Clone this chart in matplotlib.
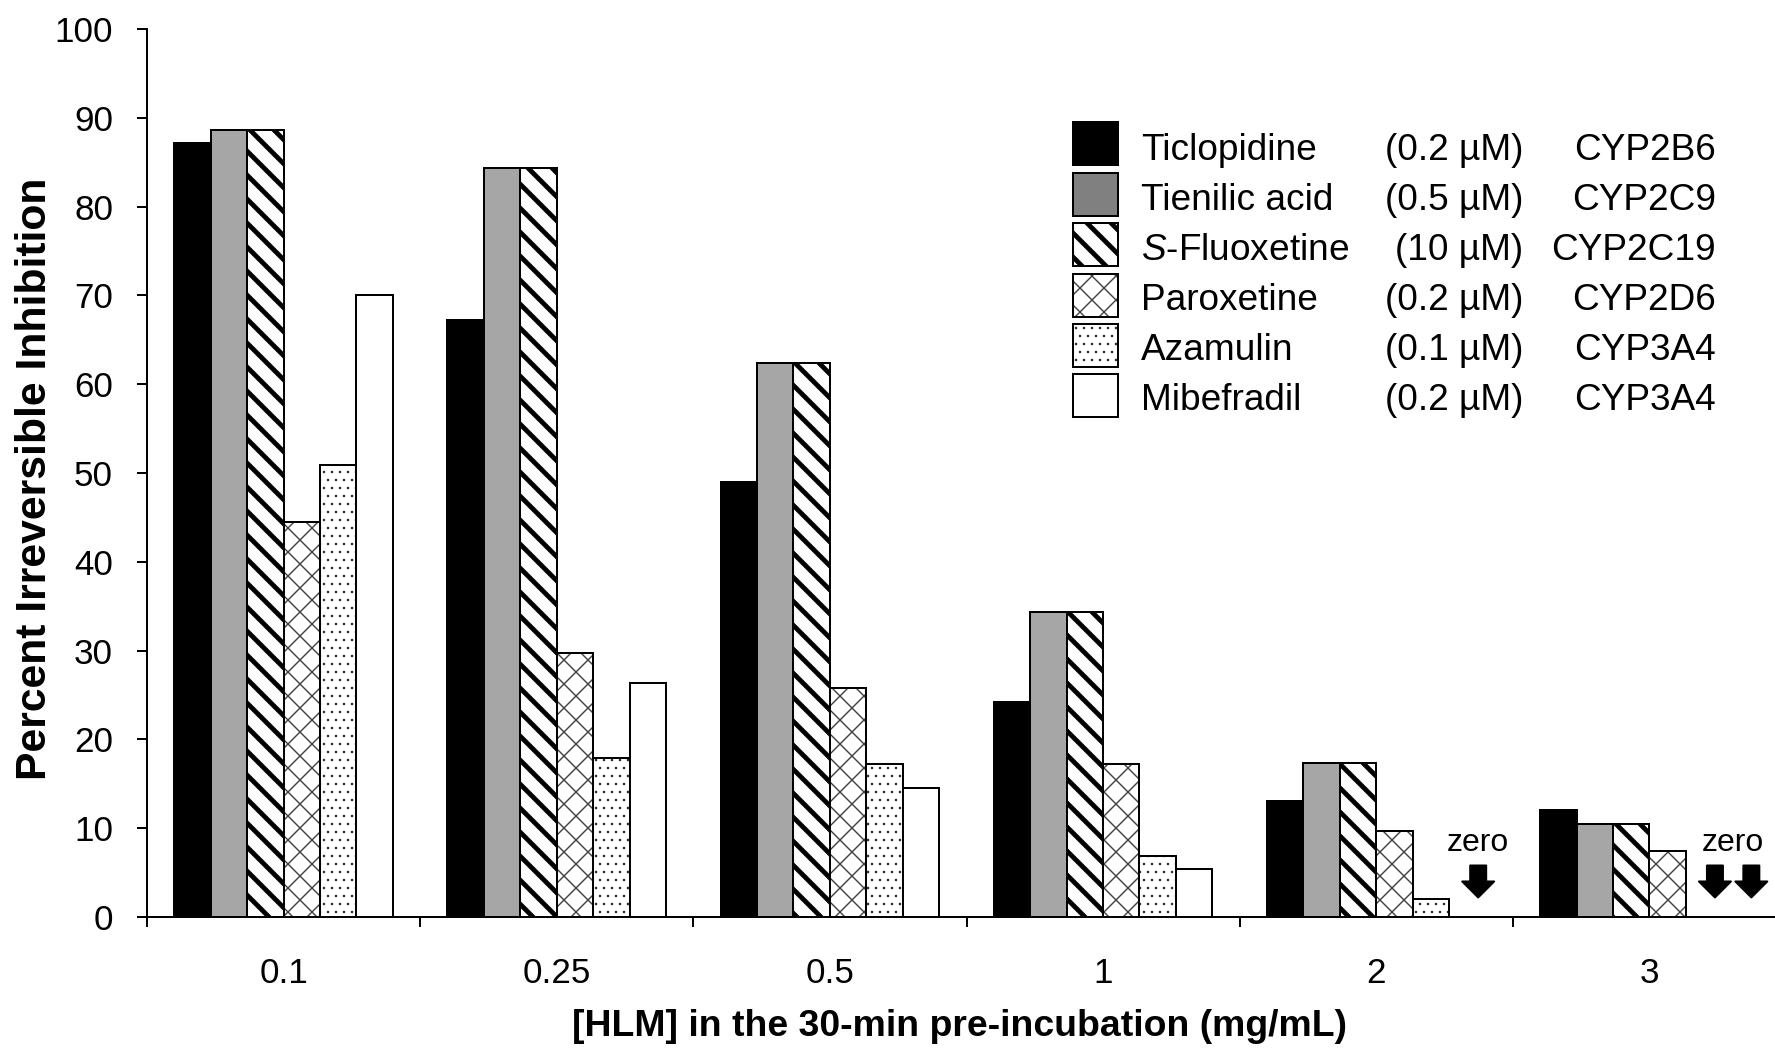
"""Percent irreversible inhibition vs HLM concentration in the 30-min pre-incubation."""

import matplotlib

matplotlib.use("Agg")
import matplotlib.pyplot as plt
import numpy as np
from matplotlib.patches import Rectangle
from matplotlib.ticker import NullFormatter

DPI = 144
plt.rcParams["font.family"] = ["Liberation Sans", "DejaVu Sans"]
plt.rcParams["mathtext.fontset"] = "custom"
plt.rcParams["mathtext.rm"] = "Liberation Sans"
plt.rcParams["mathtext.it"] = "Liberation Sans:italic"

concentrations = ["0.1", "0.25", "0.5", "1", "2", "3"]
legend_names = ["Ticlopidine", "Tienilic acid", r"$\mathit{S}$-Fluoxetine",
                "Paroxetine", "Azamulin", "Mibefradil"]
doses = ["(0.2 µM)", "(0.5 µM)", "(10 µM)", "(0.2 µM)", "(0.1 µM)", "(0.2 µM)"]
enzymes = ["CYP2B6", "CYP2C9", "CYP2C19", "CYP2D6", "CYP3A4", "CYP3A4"]

ticlopidine = [87.2, 67.2, 49.0, 24.2, 13.1, 12.1]
tienilic_acid = [88.6, 84.4, 62.4, 34.4, 17.3, 10.5]
s_fluoxetine = [88.6, 84.4, 62.4, 34.4, 17.3, 10.5]
paroxetine = [44.5, 29.7, 25.8, 17.2, 9.7, 7.4]
azamulin = [50.9, 17.9, 17.2, 6.9, 2.0, 0.0]
mibefradil = [70.0, 26.4, 14.5, 5.4, 0.0, 0.0]

series = [ticlopidine, tienilic_acid, s_fluoxetine, paroxetine, azamulin, mibefradil]

# face, legend face, hatch, hatch colour, hatch linewidth
STYLES = [
    ("black", "black", None, "black", 1.0),
    ("#a6a6a6", "#808080", None, "black", 1.0),
    ("white", "white", "\\\\", "black", 2.4),
    ("white", "white", "xx", "#404040", 0.7),
    ("white", "white", "...", "#202020", 0.45),
    ("white", "white", None, "black", 1.0),
]


def styled(artist, lw):
    if hasattr(artist, "set_hatch_linewidth"):
        artist.set_hatch_linewidth(lw)


fig = plt.figure(figsize=(1775 / DPI, 1050 / DPI), dpi=DPI)
ax = fig.add_axes([147 / 1775, 133 / 1050, 1639 / 1775, 888 / 1050])

width = 0.1333
groups = np.arange(len(concentrations))
for k, values in enumerate(series):
    face, _, hatch, hcolor, hlw = STYLES[k]
    xs = groups + 0.1 + (k + 0.5) * width
    with plt.rc_context({"hatch.linewidth": hlw}):
        bars = ax.bar(xs, values, width=width, color=face, edgecolor=hcolor,
                      linewidth=0, hatch=hatch, zorder=2)
    for b in bars:
        styled(b, hlw)
    ax.bar(xs, values, width=width, fill=False, edgecolor="black",
           linewidth=1.0, zorder=3)

# "zero" markers for bars with no measurable inhibition
for i in groups:
    arrow_x = [i + 0.1 + (k + 0.5) * width + 0.04
               for k, values in enumerate(series) if values[i] == 0]
    for x in arrow_x:
        ax.annotate("", xy=(x, 2.2), xytext=(x, 5.8),
                    arrowprops=dict(arrowstyle="simple,head_width=0.8,head_length=0.4,tail_width=0.4",
                                    fc="black", ec="black", shrinkA=0, shrinkB=0,
                                    mutation_scale=20))
    if arrow_x:
        ax.text(np.mean(arrow_x), 8.3, "zero", ha="center", va="center", fontsize=16)

ax.set_xlim(0, len(concentrations))
ax.set_ylim(0, 100)
ax.set_yticks(np.arange(0, 101, 10))
ax.set_xticks(np.arange(len(concentrations) + 1))
ax.xaxis.set_major_formatter(NullFormatter())
ax.set_xticks(groups + 0.5, concentrations, minor=True)
ax.tick_params(axis="x", which="major", direction="out", length=5, width=1.0)
ax.tick_params(axis="x", which="minor", length=0, pad=20, labelsize=17.5)
ax.tick_params(axis="y", direction="out", length=5, width=1.0, pad=12, labelsize=17.5)
for side in ("top", "right"):
    ax.spines[side].set_visible(False)
for side in ("left", "bottom"):
    ax.spines[side].set_linewidth(1.0)

fig.text(960 / 1775, 1 - 1027 / 1050, "[HLM] in the 30-min pre-incubation (mg/mL)",
         ha="center", va="center", fontsize=18.7, fontweight="bold")
fig.text(35 / 1775, 1 - 479 / 1050, "Percent Irreversible Inhibition",
         ha="center", va="center", rotation=90, fontsize=21.3, fontweight="bold")

# legend drawn by hand: swatch, name, dose, enzyme
for k in range(len(series)):
    _, lface, hatch, hcolor, hlw = STYLES[k]
    top = 122 + 50.5 * k
    with plt.rc_context({"hatch.linewidth": hlw}):
        sw = Rectangle((1073 / 1775, 1 - (top + 43) / 1050), 45 / 1775, 43 / 1050,
                       transform=fig.transFigure, facecolor=lface, edgecolor=hcolor,
                       linewidth=0, hatch=hatch)
    styled(sw, hlw)
    fig.add_artist(sw)
    fig.add_artist(Rectangle((1073 / 1775, 1 - (top + 43) / 1050), 45 / 1775, 43 / 1050,
                             transform=fig.transFigure, fill=False, edgecolor="black",
                             linewidth=1.0))
    base = 1 - (160 + 50 * k) / 1050
    fig.text(1141 / 1775, base, legend_names[k], ha="left", va="baseline", fontsize=18.5)
    fig.text(1523 / 1775, base, doses[k], ha="right", va="baseline", fontsize=18.5)
    fig.text(1716 / 1775, base, enzymes[k], ha="right", va="baseline", fontsize=18.5)

fig.savefig("out.png", dpi=DPI)
